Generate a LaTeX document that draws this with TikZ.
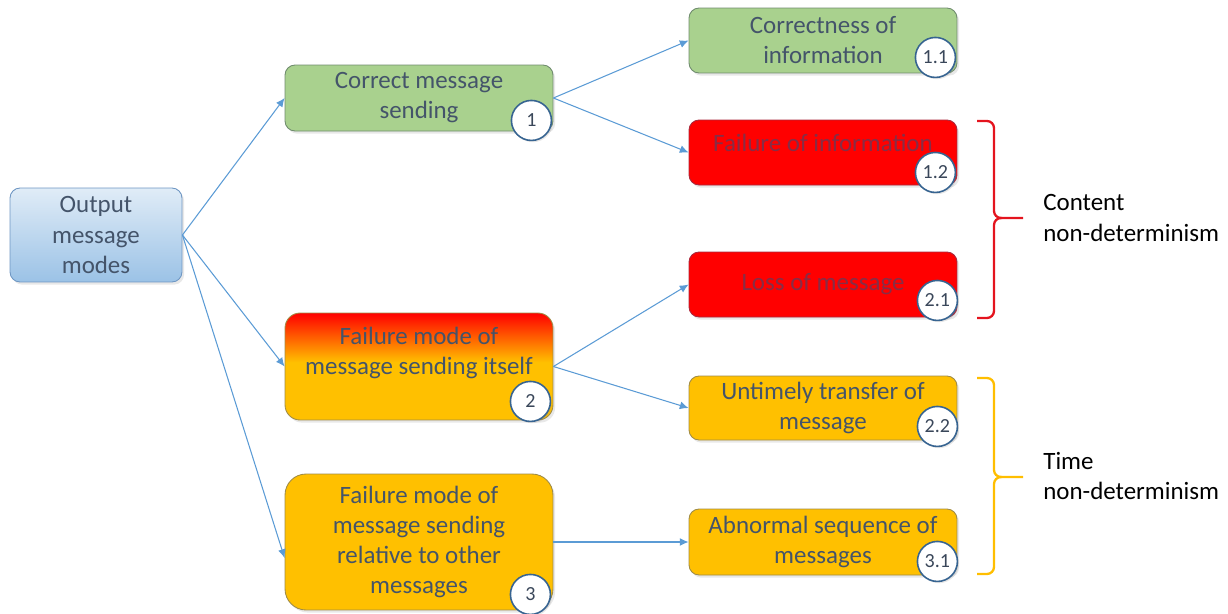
\documentclass[tikz,border=0pt]{standalone}
\usepackage{fontspec}
\setmainfont{Carlito}
\usetikzlibrary{arrows.meta,shadows}

\definecolor{boxgreen}{RGB}{169,209,142}
\definecolor{boxred}{RGB}{255,0,0}
\definecolor{boxorange}{RGB}{255,192,0}
\definecolor{bluetop}{RGB}{224,236,247}
\definecolor{bluebot}{RGB}{155,194,230}
\definecolor{linkblue}{RGB}{91,155,213}
\definecolor{inktext}{RGB}{68,84,106}
\definecolor{inkred}{RGB}{135,45,70}
\definecolor{ringblue}{RGB}{55,100,145}
\definecolor{bracered}{RGB}{228,20,30}
\definecolor{braceorange}{RGB}{255,190,0}
\definecolor{edgegreen}{RGB}{112,140,110}
\definecolor{edgered}{RGB}{170,40,60}
\definecolor{edgeorange}{RGB}{160,140,70}
\definecolor{edgeblue}{RGB}{110,150,195}

% red at the top fading into orange by the middle
\pgfdeclareverticalshading{redtoorange}{100bp}{color(0bp)=(boxorange); color(25bp)=(boxorange); color(52bp)=(boxorange); color(75bp)=(boxred); color(100bp)=(boxred)}

\begin{document}
\begin{tikzpicture}[x=0.02cm,y=-0.02cm,
  txt/.style={font=\fontsize{14.2}{17.1}\selectfont, align=center, inner sep=0pt},
  box/.style={txt, rounded corners=0.2cm, text=inktext, line width=0.5pt,
    drop shadow={shadow xshift=1.2pt, shadow yshift=-1.5pt, opacity=0.18}},
  wide/.style={minimum width=5.36cm},
  greenbox/.style={box, wide, fill=boxgreen, draw=edgegreen},
  redbox/.style={box, wide, fill=boxred, draw=edgered, text=inkred},
  orangebox/.style={box, wide, fill=boxorange, draw=edgeorange},
  badge/.style={circle, draw=ringblue, line width=0.9pt, fill=white,
    minimum size=0.8cm, inner sep=0pt, text=inktext!85!black,
    font=\fontsize{11.4}{12}\selectfont,
    drop shadow={shadow xshift=0.8pt, shadow yshift=-1pt, opacity=0.2}},
  link/.style={draw=linkblue, line width=0.6pt, -{Latex[length=5pt,width=4.5pt]}},
  tag/.style={txt, anchor=west, align=left, text=black}
]
\useasboundingbox (0,0) rectangle (1228,613);

% root
\node[box, minimum width=3.44cm, minimum height=1.88cm, top color=bluetop,
  bottom color=bluebot, draw=edgeblue] (out) at (96,235)
  {Output\\message\\modes};

% first level
\node[greenbox, minimum height=1.32cm] (n1) at (419,98) {Correct message\\sending};
\node[box, wide, minimum height=2.14cm, rounded corners=0.3cm, shading=redtoorange,
  draw=edgeorange] (n2) at (419,366.5) {};
\node[txt, text=inktext] (n2t) at ([yshift=0.27cm]n2.center)
  {Failure mode of\\message sending itself};
\node[orangebox, minimum height=2.72cm, rounded corners=0.42cm] (n3) at (419,542)
  {Failure mode of\\message sending\\relative to other\\messages};

% second level
\node[greenbox, minimum height=1.30cm] (n11) at (823,40.5) {Correctness of\\information};
\node[redbox, minimum height=1.30cm] (n12) at (823,152.5) {};
\node[txt, text=inkred] (n12t) at ([yshift=0.19cm]n12.center) {Failure of information};
\node[redbox, minimum height=1.30cm] (n21) at (823,284.5) {Loss of message};
\node[orangebox, minimum height=1.28cm] (n22) at (823,408) {Untimely transfer of\\message};
\node[orangebox, minimum height=1.32cm] (n31) at (823,542) {Abnormal sequence of\\messages};

% numbered badges
\node[badge] (b1)  at ([xshift=-0.44cm,yshift=0.22cm]n1.south east)  {1};
\node[badge] (b2)  at ([xshift=-0.46cm,yshift=0.38cm]n2.south east)  {2};
\node[badge] (b3)  at ([xshift=-0.46cm,yshift=0.32cm]n3.south east)  {3};
\node[badge] (b11) at ([xshift=-0.44cm,yshift=0.32cm]n11.south east) {1.1};
\node[badge] (b12) at ([xshift=-0.44cm,yshift=0.26cm]n12.south east) {1.2};
\node[badge] (b21) at ([xshift=-0.40cm,yshift=0.34cm]n21.south east) {2.1};
\node[badge] (b22) at ([xshift=-0.40cm,yshift=0.28cm]n22.south east) {2.2};
\node[badge] (b31) at ([xshift=-0.40cm,yshift=0.28cm]n31.south east) {3.1};

% connectors
\draw[link] (out.east) -- (n1.west);
\draw[link] (out.east) -- (n2.west);
\draw[link] (out.east) -- ([yshift=-0.32cm]n3.west);
\draw[link] (n1.east) -- (n11.west);
\draw[link] (n1.east) -- (n12.west);
\draw[link] (n2.east) -- (n21.west);
\draw[link] (n2.east) -- (n22.west);
\draw[link] (n3.east) -- (n31.west);

% braces
\draw[bracered, line width=1.3pt, rounded corners=4pt]
  (977,121) -- (994,121) -- (994,218) -- (1023,218);
\draw[bracered, line width=1.3pt, rounded corners=4pt]
  (977,318) -- (994,318) -- (994,218) -- (1002,218);
\draw[braceorange, line width=1.3pt, rounded corners=4pt]
  (977,378) -- (994,378) -- (994,477) -- (1023,477);
\draw[braceorange, line width=1.3pt, rounded corners=4pt]
  (977,574) -- (994,574) -- (994,477) -- (1002,477);

\node[tag] (content) at (1043,218) {Content\\non-determinism};
\node[tag] (time) at (1043,476) {Time\\non-determinism};
\end{tikzpicture}
\end{document}
